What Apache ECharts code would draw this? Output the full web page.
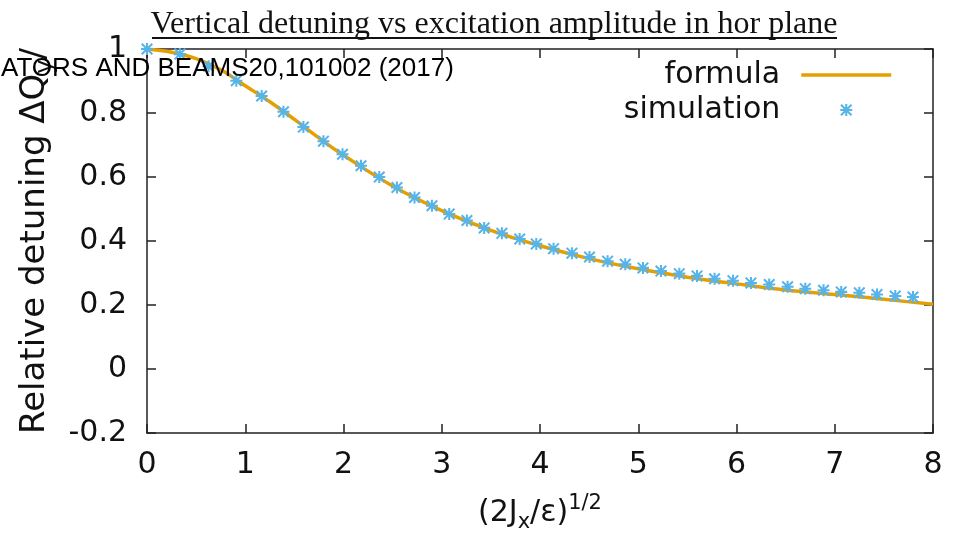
<!DOCTYPE html>
<html>
<head>
<meta charset="utf-8">
<script src="https://cdn.jsdelivr.net/npm/echarts@6/dist/echarts.min.js"></script>
<style>
html,body{margin:0;padding:0;background:#fff;}
#chart{width:960px;height:538px;}
</style>
</head>
<body>
<div id="chart"></div>
<script>
// ---- data ----
var formulaX = [0, 0.25, 0.5, 0.75, 1.0, 1.25, 1.5, 1.75, 2.0, 2.5, 3.0, 3.5, 4.0, 4.5, 5.0, 5.5, 6.0, 6.5, 7.0, 7.5, 8.0];
var formulaY = [1.0, 0.99, 0.97, 0.935, 0.885, 0.835, 0.78, 0.722, 0.668, 0.572, 0.495, 0.433, 0.385, 0.345, 0.313, 0.287, 0.266, 0.247, 0.233, 0.218, 0.202];

var simX = [0, 0.335, 0.627, 0.909, 1.167, 1.389, 1.592, 1.796, 1.990, 2.178, 2.364, 2.544, 2.723, 2.900, 3.076, 3.256, 3.432, 3.612, 3.793, 3.962, 4.138, 4.325, 4.504, 4.688, 4.868, 5.048, 5.231, 5.418, 5.598, 5.777, 5.964, 6.147, 6.333, 6.520, 6.700, 6.886, 7.066, 7.250, 7.430, 7.616, 7.796];
var simY = [1.0, 0.984, 0.946, 0.901, 0.853, 0.804, 0.756, 0.712, 0.671, 0.635, 0.600, 0.567, 0.536, 0.510, 0.484, 0.464, 0.441, 0.424, 0.406, 0.391, 0.376, 0.362, 0.350, 0.337, 0.327, 0.316, 0.306, 0.298, 0.291, 0.282, 0.276, 0.269, 0.264, 0.257, 0.251, 0.246, 0.241, 0.238, 0.233, 0.228, 0.225];

var xTicks = [0, 1, 2, 3, 4, 5, 6, 7, 8];
var yTicks = [-0.2, 0, 0.2, 0.4, 0.6, 0.8, 1];

var seriesNames = ['formula', 'simulation'];
var titleText = 'Vertical detuning vs excitation amplitude in hor plane';
var overlayText = 'ATORS AND BEAMS20,101002 (2017)';

// ---- build ----
function zip(a, b) { return a.map(function (v, i) { return [v, b[i]]; }); }

var asterisk = 'path://M0 8.3H20V11.7H0Z M8.3 0H11.7V20H8.3Z M2.4 0L20 17.6L17.6 20L0 2.4Z M17.6 0L20 2.4L2.4 20L0 17.6Z';

var axisColor = '#222';
var sans = 'DejaVu Sans';
var orange = '#e69f00';
var blue = '#56b4e9';

var chart = echarts.init(document.getElementById('chart'), null, {renderer: 'canvas'});
var option = {
  backgroundColor: '#fff',
  animation: false,
  title: {
    text: titleText,
    left: 494,
    top: 9,
    textAlign: 'center',
    padding: 0,
    textStyle: {fontFamily: 'Liberation Serif', fontSize: 32, fontWeight: 'normal', color: '#111'}
  },
  grid: {left: 147, right: 27, top: 49, bottom: 103, containLabel: false},
  legend: {
    orient: 'vertical',
    align: 'right',
    right: 67,
    top: 60,
    padding: 0,
    itemGap: 5,
    itemWidth: 90,
    itemHeight: 12,
    textStyle: {fontFamily: sans, fontSize: 30, color: '#111', padding: [0, 16, 0, 0]},
    data: [
      {name: seriesNames[0], itemStyle: {opacity: 0}, lineStyle: {color: orange, width: 3.5}},
      {name: seriesNames[1]}
    ]
  },
  xAxis: [{
    type: 'value', min: xTicks[0], max: xTicks[xTicks.length - 1], interval: 1,
    position: 'bottom',
    name: '{m|(2J}{s|x}{m|/ε)}{p|1/2}',
    nameLocation: 'middle', nameGap: 60,
    nameTextStyle: {
      rich: {
        m: {fontFamily: sans, fontSize: 30, lineHeight: 40, color: '#111', verticalAlign: 'middle'},
        s: {fontFamily: sans, fontSize: 21, lineHeight: 21, color: '#111', verticalAlign: 'bottom'},
        p: {fontFamily: sans, fontSize: 21, lineHeight: 21, color: '#111', verticalAlign: 'top'}
      }
    },
    axisLine: {show: true, onZero: false, lineStyle: {color: axisColor, width: 1.5}},
    axisTick: {show: true, inside: true, length: 9, lineStyle: {color: axisColor, width: 1.5}},
    axisLabel: {margin: 17, fontFamily: sans, fontSize: 30, color: '#111'},
    splitLine: {show: false}
  }, {
    type: 'value', min: xTicks[0], max: xTicks[xTicks.length - 1], interval: 1,
    position: 'top',
    axisLine: {show: true, onZero: false, lineStyle: {color: axisColor, width: 1.5}},
    axisTick: {show: true, inside: true, length: 9, lineStyle: {color: axisColor, width: 1.5}},
    axisLabel: {show: false},
    splitLine: {show: false}
  }],
  yAxis: [{
    type: 'value', min: yTicks[0], max: yTicks[yTicks.length - 1], interval: 0.2,
    position: 'left',
    name: '{m|Relative detuning ΔQ}{s|y}{m|/}',
    nameLocation: 'middle', nameRotate: 90, nameGap: 88,
    nameTextStyle: {
      rich: {
        m: {fontFamily: sans, fontSize: 34, lineHeight: 44, color: '#111', verticalAlign: 'middle'},
        s: {fontFamily: sans, fontSize: 24, lineHeight: 24, color: '#111', verticalAlign: 'bottom'}
      }
    },
    axisLine: {show: true, onZero: false, lineStyle: {color: axisColor, width: 1.5}},
    axisTick: {show: true, inside: true, length: 9, lineStyle: {color: axisColor, width: 1.5}},
    axisLabel: {
      margin: 20, fontFamily: sans, fontSize: 30, color: '#111',
      formatter: function (v) { return String(+v.toFixed(1)); }
    },
    splitLine: {show: false}
  }, {
    type: 'value', min: yTicks[0], max: yTicks[yTicks.length - 1], interval: 0.2,
    position: 'right',
    axisLine: {show: true, onZero: false, lineStyle: {color: axisColor, width: 1.5}},
    axisTick: {show: true, inside: true, length: 9, lineStyle: {color: axisColor, width: 1.5}},
    axisLabel: {show: false},
    splitLine: {show: false}
  }],
  series: [{
    name: seriesNames[0],
    type: 'line',
    xAxisIndex: 0, yAxisIndex: 0,
    data: zip(formulaX, formulaY),
    smooth: 0.4,
    showSymbol: false,
    symbol: 'none',
    lineStyle: {color: orange, width: 3.5},
    itemStyle: {color: orange},
    z: 2
  }, {
    name: seriesNames[1],
    type: 'scatter',
    xAxisIndex: 0, yAxisIndex: 0,
    data: zip(simX, simY),
    symbol: asterisk,
    symbolSize: 12,
    itemStyle: {color: blue, opacity: 1},
    z: 3
  }],
  graphic: [{
    type: 'line',
    shape: {x1: 152, y1: 38, x2: 837, y2: 38},
    style: {stroke: '#111', lineWidth: 2},
    z: 10
  }, {
    type: 'text',
    left: 1, top: 56,
    style: {text: overlayText, fontFamily: 'Liberation Sans', fontSize: 26, fill: '#000'},
    z: 100
  }]
};
chart.setOption(option);
</script>
</body>
</html>
